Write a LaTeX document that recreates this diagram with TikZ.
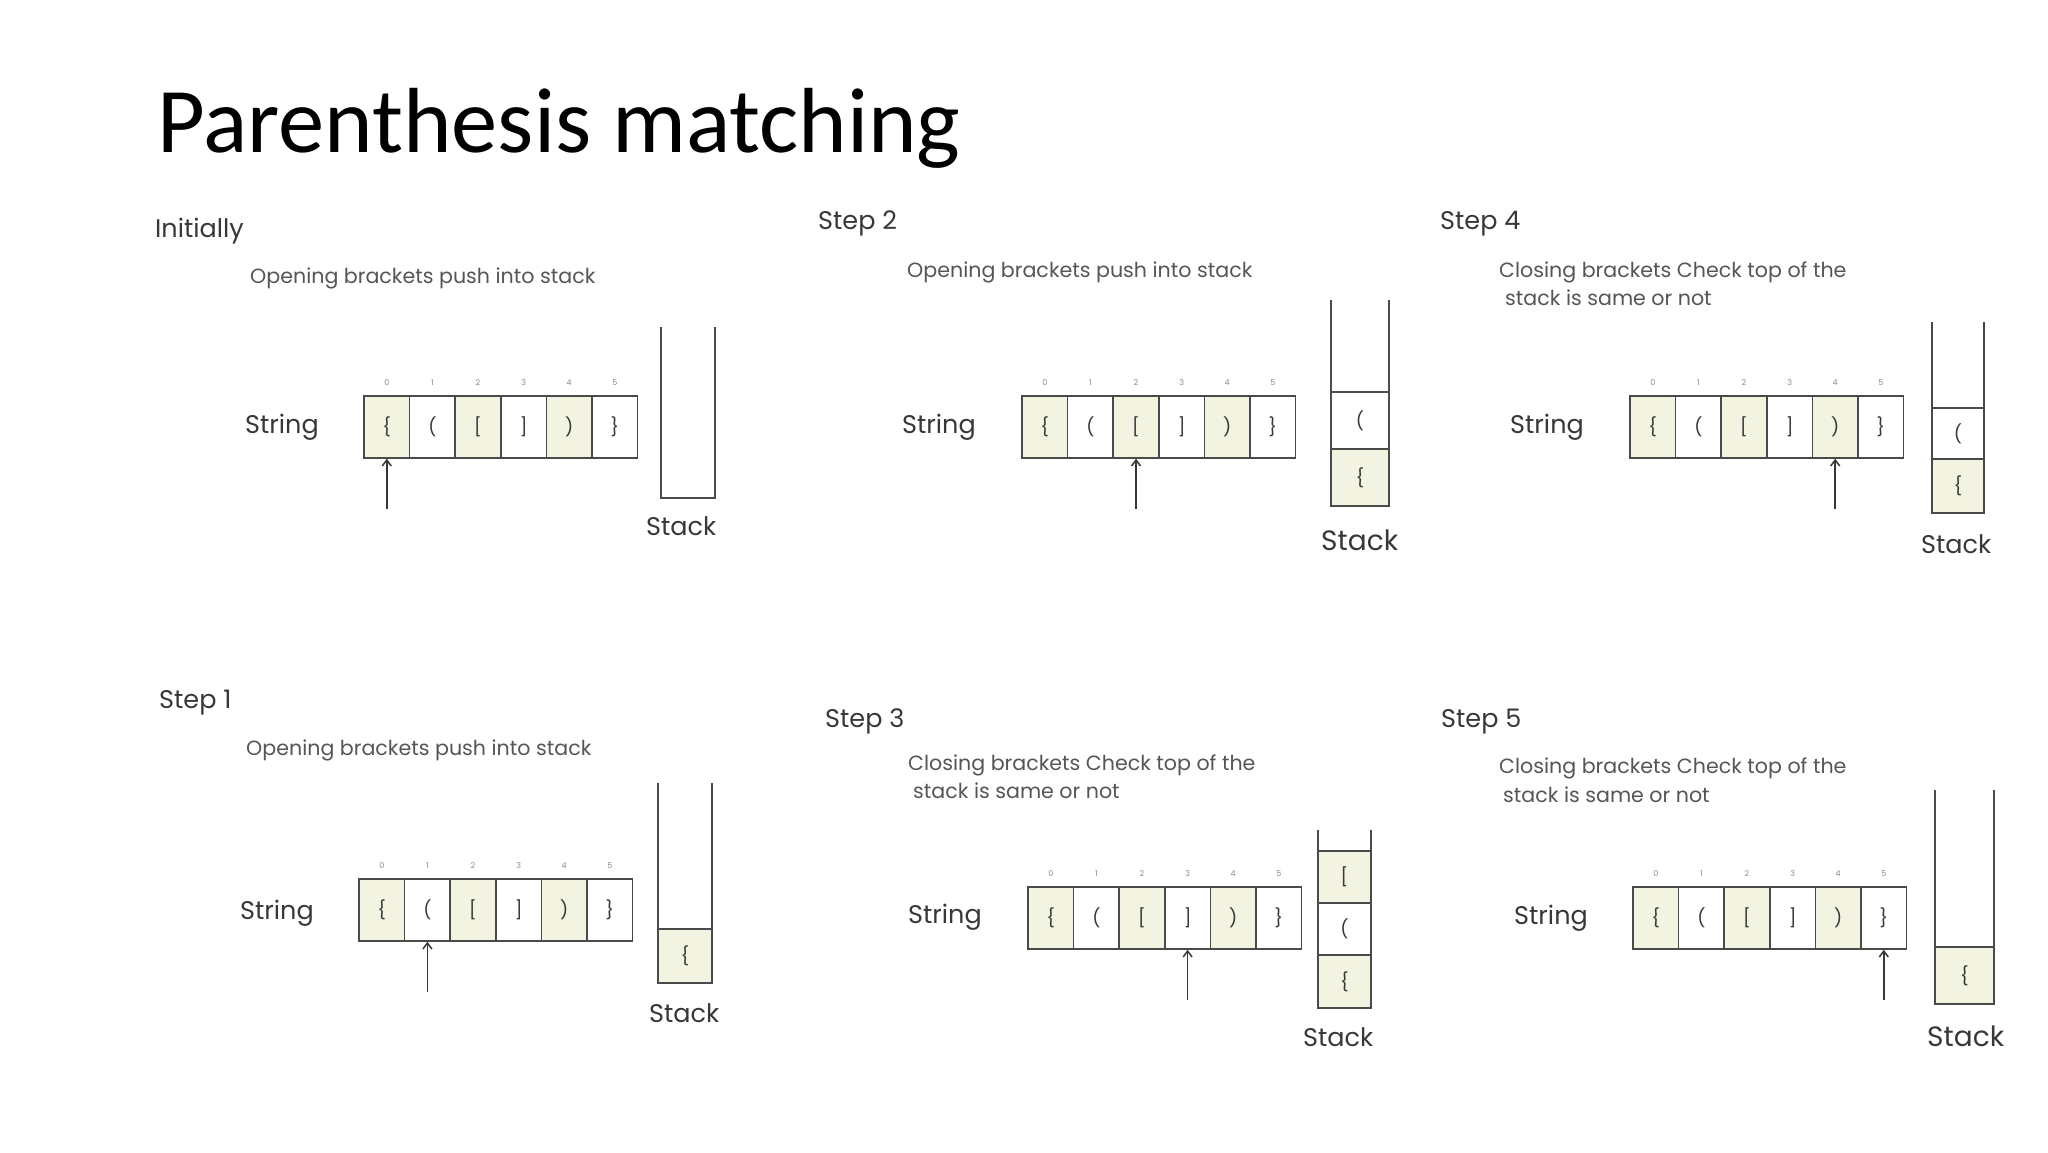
\documentclass[tikz,border=0pt]{standalone}
\usepackage{fontspec}
\setmainfont{Carlito}
\newfontfamily\pfont{Poppins}
\usetikzlibrary{arrows.meta}
\definecolor{cellfill}{HTML}{F3F3E1}
\definecolor{ink}{HTML}{383838}
\definecolor{linec}{HTML}{4A4A4A}
\definecolor{idxc}{HTML}{8A8A8A}
\tikzset{
  head/.style={anchor=base west, inner sep=0pt, text=ink, font=\pfont\fontsize{25.5}{30}\selectfont},
  desc/.style={anchor=base west, inner sep=0pt, text=ink!85, font=\pfont\fontsize{20.6}{24}\selectfont},
  lbl/.style={anchor=base west, inner sep=0pt, text=ink, font=\pfont\fontsize{25.5}{30}\selectfont},
  biglbl/.style={lbl, font=\pfont\fontsize{28}{32}\selectfont},
  cellbox/.style={draw=linec, line width=1.5pt, inner sep=0pt, minimum width=45.6pt, minimum height=62pt, text=ink, font=\pfont\fontsize{18}{20}\selectfont},
  idx/.style={inner sep=0pt, text=idxc, font=\pfont\fontsize{8}{9}\selectfont},
  ptr/.style={draw=ink, line width=1.5pt, -{Straight Barb[length=6pt,width=9pt]}},
  stackline/.style={draw=linec, line width=1.5pt},
  stcell/.style={draw=linec, line width=1.5pt, inner sep=0pt, text=ink, font=\pfont\fontsize{18}{20}\selectfont},
}
% string array: #1 prefix, #2 left x, #3 top y, #4 pointer index
\newcommand{\strarr}[4]{%
  \foreach \i in {0,...,5}{%
    \ifodd\i \def\cfc{white}\else \def\cfc{cellfill}\fi
    \node[cellbox, fill=\cfc] (#1c\i) at ({#2+(\i+0.5)*45.6},{#3+31}) {\ifcase\i\relax \{\or (\or [\or ]\or )\or \}\fi};
    \node[idx] (#1i\i) at ({#2+(\i+0.5)*45.6},{#3-13}) {\i};
  }
  \coordinate (#1tail) at ([yshift=-50pt]#1c#4.south);
  \draw[ptr] (#1tail) -- (#1c#4.south);
}
% open stack: #1 name, #2 xl, #3 xr, #4 ytop, #5 ybot
\newcommand{\stk}[5]{%
  \coordinate (#1tl) at (#2,#4);
  \coordinate (#1bl) at (#2,#5);
  \coordinate (#1br) at (#3,#5);
  \coordinate (#1tr) at (#3,#4);
  \draw[stackline] (#1tl) -- (#1bl) -- (#1br) -- (#1tr);
}
\begin{document}
\begin{tikzpicture}[x=1pt, y=-1pt]
\path[fill=white] (0,0) rectangle (2048,1152);
\useasboundingbox (0,0) rectangle (2048,1152);

\node[anchor=base west, inner sep=0pt, font=\fontsize{92.5}{100}\selectfont, text=black] (title) at (157,152) {Parenthesis matching};

% Panel: Initially
\node[head] (h1) at (155,237) {Initially};
\node[desc] (d1) at (250,283) {Opening brackets push into stack};
\node[lbl] (s1) at (245,433) {String};
\strarr{p1}{364}{396}{0}
\stk{k1}{661}{715}{327}{498}
\node[lbl] (t1) at (646,535) {Stack};

% Panel: Step 2
\node[head] (h2) at (818,229) {Step 2};
\node[desc] (d2) at (907,277) {Opening brackets push into stack};
\node[lbl] (s2) at (902,433) {String};
\strarr{p2}{1022}{396}{2}
\stk{k2}{1331}{1389}{300}{506}
\node[stcell, fill=white, minimum width=58pt, minimum height=57pt] (k2a) at (1360,420.5) {(};
\node[stcell, fill=cellfill, minimum width=58pt, minimum height=57pt] (k2b) at (1360,477.5) {\{};
\node[biglbl] (t2) at (1321,550) {Stack};

% Panel: Step 4
\node[head] (h3) at (1440,229) {Step 4};
\node[desc] (d3a) at (1499,277) {Closing brackets Check top of the};
\node[desc] (d3b) at (1505,305) {stack is same or not};
\node[lbl] (s3) at (1510,433) {String};
\strarr{p3}{1630}{396}{4}
\stk{k3}{1932}{1984}{322}{513}
\node[stcell, fill=white, minimum width=52pt, minimum height=51pt] (k3a) at (1958,433.5) {(};
\node[stcell, fill=cellfill, minimum width=52pt, minimum height=54pt] (k3b) at (1958,486) {\{};
\node[lbl] (t3) at (1921,553) {Stack};

% Panel: Step 1
\node[head] (h4) at (159,708) {Step 1};
\node[desc] (d4) at (246,755) {Opening brackets push into stack};
\node[lbl] (s4) at (240,919) {String};
\strarr{p4}{359}{879}{1}
\stk{k4}{658}{712}{783}{983}
\node[stcell, fill=cellfill, minimum width=54pt, minimum height=54pt] (k4a) at (685,956) {\{};
\node[lbl] (t4) at (649,1022) {Stack};

% Panel: Step 3
\node[head] (h5) at (825,727) {Step 3};
\node[desc] (d5a) at (908,770) {Closing brackets Check top of the};
\node[desc] (d5b) at (913,798) {stack is same or not};
\node[lbl] (s5) at (908,923) {String};
\strarr{p5}{1028}{887}{3}
\stk{k5}{1318}{1371}{830}{1008}
\node[stcell, fill=cellfill, minimum width=53pt, minimum height=52pt] (k5a) at (1344.5,877) {[};
\node[stcell, fill=white, minimum width=53pt, minimum height=52pt] (k5b) at (1344.5,929) {(};
\node[stcell, fill=cellfill, minimum width=53pt, minimum height=53pt] (k5c) at (1344.5,981.5) {\{};
\node[lbl] (t5) at (1303,1046) {Stack};

% Panel: Step 5
\node[head] (h6) at (1441,727) {Step 5};
\node[desc] (d6a) at (1499,773) {Closing brackets Check top of the};
\node[desc] (d6b) at (1503,802) {stack is same or not};
\node[lbl] (s6) at (1514,924) {String};
\strarr{p6}{1633}{887}{5}
\stk{k6}{1935}{1994}{790}{1004}
\node[stcell, fill=cellfill, minimum width=59pt, minimum height=57pt] (k6a) at (1964.5,975.5) {\{};
\node[biglbl] (t6) at (1927,1046) {Stack};
\end{tikzpicture}
\end{document}
